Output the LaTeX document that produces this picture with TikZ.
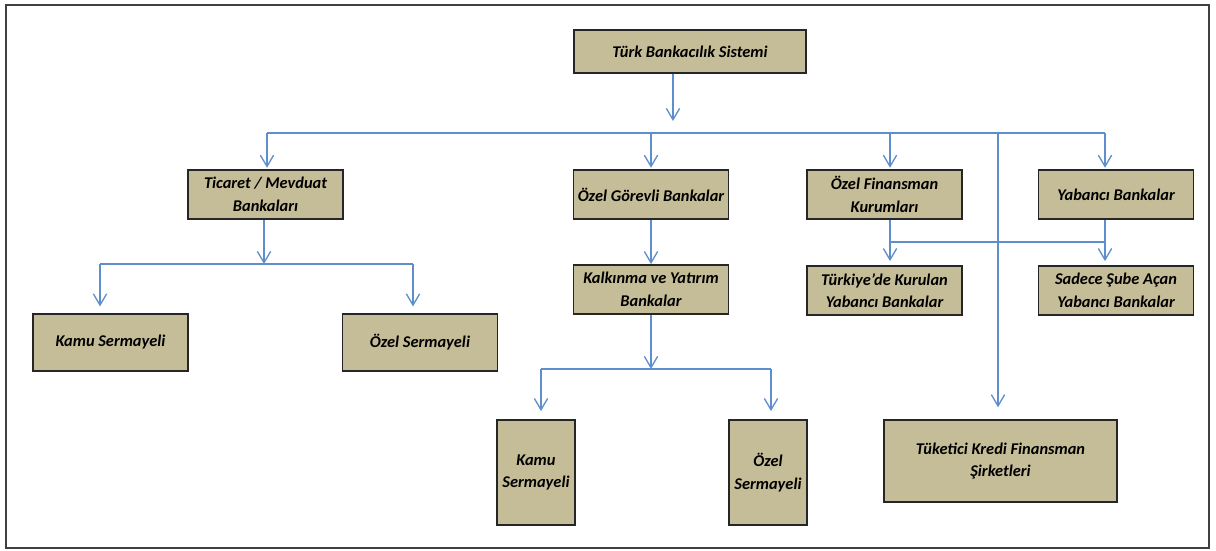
\documentclass[tikz,border=0pt]{standalone}
\usepackage{fontspec}
\setmainfont{Carlito}
\usepackage{tikz}
\usetikzlibrary{arrows.meta}
\definecolor{boxtan}{RGB}{196,189,151}
\definecolor{linkblue}{RGB}{95,142,205}
\tikzset{
	bankbox/.style={draw=black!85, line width=1.1pt, fill=boxtan, align=center, inner sep=0pt,
		font=\fontsize{12.3}{17}\selectfont\bfseries\itshape},
	link/.style={draw=linkblue, line width=1.1pt},
	arrow/.style={link, -{Straight Barb[length=8.5pt, width=10pt, line width=1pt]}}
}

\begin{document}
\begin{tikzpicture}[x=0.75pt, y=-0.75pt]
			%%%%% START %%%%%
			\useasboundingbox (0, 0) rectangle (1216, 550);
			\draw[line width=1.5pt, color=black!75] (6, 5) rectangle (1209, 548);
			
			\node[bankbox, minimum width=174pt, minimum height=32pt] (sistem) at (690, 51.5) {Türk Bankacılık Sistemi};
			
			\node[bankbox, minimum width=116pt, minimum height=37pt] (ticaret) at (265.5, 194.5) {Ticaret / Mevduat\\Bankaları};
			\node[bankbox, minimum width=116pt, minimum height=37pt] (gorevli) at (651, 194.5) {Özel Görevli Bankalar};
			\node[bankbox, minimum width=116pt, minimum height=37pt] (finansman) at (884.5, 194.5) {Özel Finansman\\Kurumları};
			\node[bankbox, minimum width=116pt, minimum height=37pt] (yabanci) at (1116, 194.5) {Yabancı Bankalar};
			
			\node[bankbox, minimum width=116pt, minimum height=43pt] (kamuA) at (110.5, 342.5) {Kamu Sermayeli};
			\node[bankbox, minimum width=116pt, minimum height=43pt] (ozelA) at (420, 342.5) {Özel Sermayeli};
			
			\node[bankbox, minimum width=116pt, minimum height=37pt] (kalkinma) at (651, 289.5) {Kalkınma ve Yatırım\\Bankalar};
			\node[bankbox, minimum width=116pt, minimum height=37pt] (kurulan) at (884.5, 290.5) {Türkiye{\char"0027}de Kurulan\\Yabancı Bankalar};
			\node[bankbox, minimum width=116pt, minimum height=37pt] (sube) at (1116, 290.5) {Sadece Şube Açan\\Yabancı Bankalar};
			
			\node[bankbox, minimum width=58.5pt, minimum height=79pt] (kamuB) at (536, 472.5) {Kamu\\Sermayeli};
			\node[bankbox, minimum width=58.5pt, minimum height=79pt] (ozelB) at (768, 472.5) {Özel\\Sermayeli};
			\node[bankbox, minimum width=175pt, minimum height=61.5pt] (tuketici) at (1000.5, 461) {Tüketici Kredi Finansman\\Şirketleri};
			
			%%%%% main branch
			\coordinate (busL) at (267, 133);
			\coordinate (busR) at (1105, 133);
			\coordinate (busTop) at (673, 121);
			\coordinate (busG) at (651, 133);
			\coordinate (busF) at (890, 133);
			\coordinate (busT) at (998, 133);
			\draw[arrow] (sistem.south -| busTop) -- (busTop);
			\draw[link] (busL) -- (busR);
			\draw[arrow] (busL) -- ([yshift=1pt]ticaret.north -| busL);
			\draw[arrow] (busG) -- ([yshift=1pt]gorevli.north);
			\draw[arrow] (busF) -- ([yshift=1pt]finansman.north -| busF);
			\draw[arrow] (busR) -- ([yshift=1pt]yabanci.north -| busR);
			\draw[arrow] (busT) -- ([yshift=9pt]tuketici.north -| busT);
			
			%%%%% ticaret
			\coordinate (ticL) at (100, 264);
			\coordinate (ticR) at (413, 264);
			\coordinate (ticM) at (264, 264);
			\draw[arrow] (ticaret.south -| ticM) -- (ticM);
			\draw[link] (ticL) -- (ticR);
			\draw[arrow] (ticL) -- ([yshift=5pt]kamuA.north -| ticL);
			\draw[arrow] (ticR) -- ([yshift=5pt]ozelA.north -| ticR);
			
			%%%%% gorevli
			\coordinate (kalL) at (541, 369);
			\coordinate (kalR) at (771, 369);
			\coordinate (kalM) at (651, 369);
			\draw[arrow] (gorevli.south) -- (kalkinma.north);
			\draw[arrow] (kalkinma.south) -- (kalM);
			\draw[link] (kalL) -- (kalR);
			\draw[arrow] (kalL) -- ([yshift=6pt]kamuB.north -| kalL);
			\draw[arrow] (kalR) -- ([yshift=6pt]ozelB.north -| kalR);
			
			%%%%% finansman / yabanci
			\coordinate (yabL) at (890, 242);
			\coordinate (yabR) at (1105, 242);
			\draw[link] (finansman.south -| yabL) -- (yabL) -- (yabR) -- (yabanci.south -| yabR);
			\draw[arrow] (yabL) -- ([yshift=3pt]kurulan.north -| yabL);
			\draw[arrow] (yabR) -- ([yshift=3pt]sube.north -| yabR);
			%%%%% END %%%%%
\end{tikzpicture}
\end{document}
